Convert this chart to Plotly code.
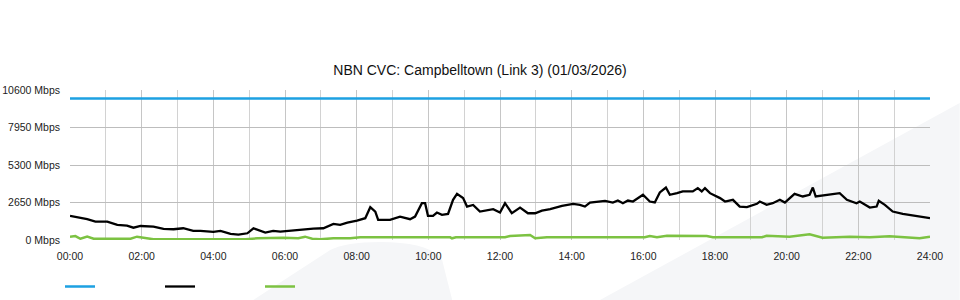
import plotly.graph_objects as go

# ---- data (hours since midnight, Mbps) ----
capacity_hours = [0, 24]
capacity_mbps = [10000, 10000]

black_hours = [0.0, 0.48, 0.71, 1.04, 1.32, 1.59, 1.77, 1.97, 2.33, 2.61, 2.89, 3.16, 3.44, 3.64,
               4.0, 4.2, 4.48, 4.7, 4.95, 5.12, 5.45, 5.67, 5.87, 6.15, 6.43, 6.79, 7.07, 7.18,
               7.35, 7.54, 7.74, 8.01, 8.24, 8.38, 8.52, 8.6, 8.93, 9.21, 9.49, 9.63, 9.82, 9.91,
               9.99, 10.13, 10.24, 10.38, 10.55, 10.69, 10.8, 10.97, 11.08, 11.25, 11.44, 11.81,
               12.0, 12.14, 12.33, 12.56, 12.78, 12.98, 13.17, 13.4, 13.73, 14.04, 14.23, 14.37,
               14.51, 14.93, 15.15, 15.29, 15.43, 15.57, 15.71, 15.99, 16.18, 16.32, 16.46, 16.63,
               16.74, 16.94, 17.1, 17.38, 17.52, 17.63, 17.72, 17.86, 18.14, 18.28, 18.5, 18.69,
               18.89, 19.17, 19.25, 19.44, 19.61, 19.81, 19.95, 20.22, 20.45, 20.64, 20.73, 20.81,
               21.12, 21.48, 21.68, 21.95, 22.04, 22.32, 22.51, 22.57, 22.74, 22.96, 23.24, 23.63, 24.0]
black_mbps = [1700, 1470, 1300, 1300, 1065, 1015, 870, 990, 940, 780, 760, 830, 640, 640,
              570, 640, 430, 380, 475, 830, 520, 640, 590, 660, 710, 800, 830, 945,
              1135, 1065, 1230, 1370, 1540, 2320, 2010, 1420, 1420, 1655, 1470, 1655, 2600, 2600,
              1700, 1700, 1940, 1775, 1845, 2840, 3265, 2960, 2365, 2480, 2010, 2180,
              1940, 2600, 1890, 2290, 1890, 1890, 2080, 2180, 2415, 2555, 2485, 2365,
              2650, 2770, 2650, 2790, 2600, 2790, 2720, 3195, 2720, 2650, 3360, 3710,
              3195, 3310, 3430, 3430, 3670, 3430, 3670, 3310, 2960, 2720, 2840, 2365,
              2320, 2555, 2720, 2485, 2600, 2840, 2650, 3265, 3075, 3195, 3710, 3075,
              3195, 3310, 2840, 2600, 2720, 2290, 2365, 2770, 2485, 2010, 1845, 1700, 1540]

green_hours = [0.0, 0.15, 0.29, 0.48, 0.66, 1.69, 1.87, 2.15, 2.33, 4.9, 5.23, 5.95, 6.37, 6.56,
               6.76, 6.98, 7.35, 7.82, 8.1, 10.61, 10.66, 10.77, 12.14, 12.28, 12.64, 12.84,
               12.98, 13.31, 16.04, 16.18, 16.38, 16.66, 17.77, 17.94, 19.31, 19.44, 20.08,
               20.64, 21.0, 21.76, 22.32, 22.87, 23.29, 23.71, 24.0]
green_mbps = [235, 280, 90, 235, 90, 90, 235, 120, 50, 50, 120, 165, 120, 235,
              90, 50, 120, 120, 190, 190, 120, 190, 190, 280, 355, 355,
              120, 190, 190, 280, 190, 300, 280, 190, 190, 300, 235,
              400, 165, 235, 190, 260, 190, 120, 235]

y_ticks = [0, 2650, 5300, 7950, 10600]
y_tick_labels = ["0 Mbps", "2650 Mbps", "5300 Mbps", "7950 Mbps", "10600 Mbps"]
x_ticks = list(range(0, 25, 2))
x_tick_labels = ["%02d:00" % h for h in x_ticks]

title_text = "NBN CVC: Campbelltown (Link 3) (01/03/2026)"

# ---- layout geometry (pixels) ----
W, H = 960, 300
L, R, T, B = 69.5, 930.3, 90, 240


def px(x):
    return (x - L) / (R - L)


def py(y):
    return (B - y) / (B - T)


fig = go.Figure()
fig.add_trace(go.Scatter(x=capacity_hours, y=capacity_mbps, mode="lines", name=" ",
                         line=dict(color="#1da1e2", width=2.5)))
fig.add_trace(go.Scatter(x=black_hours, y=black_mbps, mode="lines", name=" ",
                         line=dict(color="#000000", width=2.3)))
fig.add_trace(go.Scatter(x=green_hours, y=green_mbps, mode="lines", name=" ",
                         line=dict(color="#7cc242", width=2.5)))

# faint background watermark
wm = "#f5f6f8"
band = "M {:.4f},{:.4f} L {:.4f},{:.4f} L {:.4f},{:.4f} L {:.4f},{:.4f} Z".format(
    px(600), py(300), px(960), py(103), px(960), py(300), px(600), py(300))
blob = ("M {:.4f},{:.4f} L {:.4f},{:.4f} Q {:.4f},{:.4f} {:.4f},{:.4f} "
        "Q {:.4f},{:.4f} {:.4f},{:.4f} L {:.4f},{:.4f} Z").format(
    px(253), py(300), px(330), py(250), px(345), py(242), px(380), py(242),
    px(430), py(242), px(442), py(260), px(452), py(300))
shapes = [
    dict(type="path", path=band, xref="paper", yref="paper", fillcolor=wm,
         line=dict(width=0), layer="below"),
    dict(type="path", path=blob, xref="paper", yref="paper", fillcolor=wm,
         line=dict(width=0), layer="below"),
]

fig.update_layout(
    width=W, height=H,
    margin=dict(l=L, r=W - R, t=T, b=H - B, pad=0, autoexpand=False),
    paper_bgcolor="white",
    plot_bgcolor="rgba(0,0,0,0)",
    font=dict(family="Liberation Sans, Arial, sans-serif", size=11, color="#222"),
    title=dict(text=title_text, x=0.5, xref="container", y=1 - 70 / H, yref="container",
               yanchor="middle", xanchor="center",
               font=dict(size=14, color="#111")),
    shapes=shapes,
    showlegend=True,
    legend=dict(orientation="h", x=60 / W, xanchor="left", y=1 - 272 / H, yanchor="top",
                xref="container", yref="container", entrywidth=55, entrywidthmode="pixels",
                font=dict(size=11), bgcolor="rgba(0,0,0,0)", borderwidth=0,
                itemclick=False, itemdoubleclick=False),
)

fig.update_xaxes(
    range=[0, 24], tickmode="array", tickvals=x_ticks, ticktext=x_tick_labels,
    showgrid=True, gridcolor="#c6c6c6", gridwidth=1,
    minor=dict(dtick=1, tick0=0, showgrid=True, gridcolor="#d2d2d2", gridwidth=1),
    zeroline=False, showline=False, ticks="", ticklabelstandoff=8, automargin=False,
    tickfont=dict(size=10.5, color="#222"), fixedrange=True,
)
fig.update_yaxes(
    range=[0, 10600], tickmode="array", tickvals=y_ticks, ticktext=y_tick_labels,
    showgrid=True, gridcolor="#bdbdbd", gridwidth=1,
    zeroline=False, showline=False, ticks="", ticklabelstandoff=9, automargin=False,
    tickfont=dict(size=10.5, color="#222"), fixedrange=True,
)

fig.write_html("out.html", config=dict(displayModeBar=False))
